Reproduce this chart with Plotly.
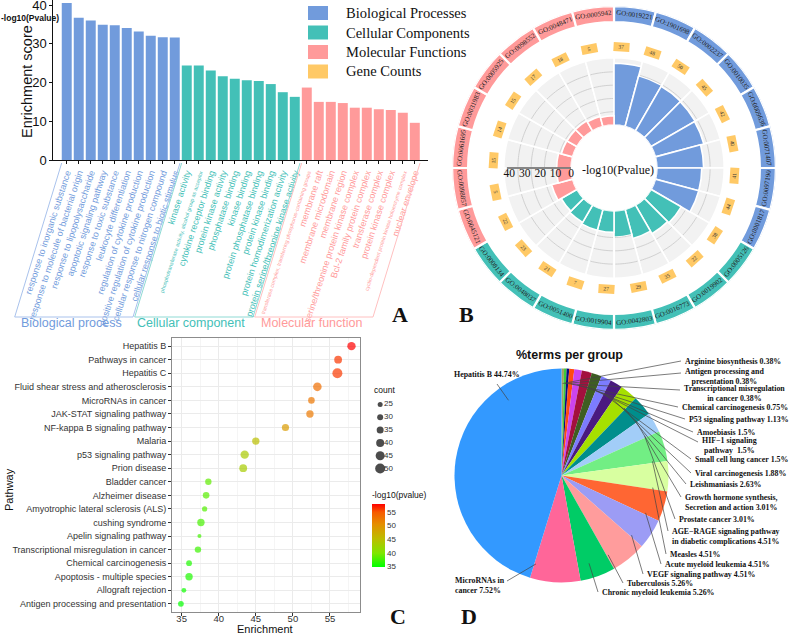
import math
import plotly.graph_objects as go

W, H = 789, 635
SANS = "Liberation Sans, Arial, sans-serif"
SERIF = "Liberation Serif, Times New Roman, serif"

BLUE = "#719BDC"
TEAL = "#43C0B7"
PINK = "#FF9A9A"
GOLD = "#FFC966"

# ---------------- panel A data ----------------
bp_terms = ["response to inorganic substance", "response to molecule of bacterial origin",
            "response to lipopolysaccharide", "apoptotic signaling pathway",
            "response to toxic substance", "leukocyte differentiation",
            "regulation of cytokine production", "positive regulation of cytokine production",
            "cellular response to nitrogen compound", "cellular response to biotic stimulus"]
bp_scores = [40.5, 36.7, 36.0, 34.9, 34.8, 34.1, 33.2, 32.1, 31.7, 31.6]

cc_terms = ["kinase activity", "phosphotransferase activity, alcohol group as acceptor",
            "cytokine receptor binding", "protein kinase activity", "phosphatase binding",
            "kinase binding", "protein phosphatase binding", "protein kinase binding",
            "protein homodimerization activity", "protein serine/threonine kinase activity"]
cc_scores = [24.4, 24.4, 23.1, 21.6, 21.0, 20.6, 20.4, 19.6, 17.5, 16.3]

mf_terms = ["transferase complex, transferring phosphorus-containing groups", "membrane raft",
            "membrane microdomain", "membrane region", "serine/threonine protein kinase complex",
            "Bcl-2 family protein complex", "transferase complex", "protein kinase complex",
            "cyclin-dependent protein kinase holoenzyme complex", "nuclear envelope"]
mf_scores = [18.7, 15.0, 15.0, 14.7, 13.5, 13.5, 13.1, 12.9, 12.2, 9.6]

group_names = ["Biological process", "Cellular component", "Molecular function"]
legend_names = ["Biological Processes", "Cellular Components", "Molecular Functions", "Gene Counts"]

# ---------------- panel B data ----------------
b_go_ids = ["GO:0019221", "GO:1901698", "GO:0002237", "GO:0010035",
            "GO:0009636", "GO:0071407", "GO:0097190", "GO:0001817",
            "GO:0005126", "GO:0019902", "GO:0016773", "GO:0042803",
            "GO:0019904", "GO:0051400", "GO:0048037", "GO:0008134",
            "GO:0045121", "GO:0098857", "GO:0061695", "GO:0031983",
            "GO:0005925", "GO:0098552", "GO:0048471", "GO:0005942"]
b_scores = [40.0, 34.0, 33.2, 32.8, 32.4, 30.2, 29.0, 29.0,
            22.4, 21.3, 19.4, 17.0, 13.9, 14.0, 12.8, 11.7,
            14.0, 9.5, 9.3, 7.5, 7.3, 7.5, 6.8, 6.0]
b_counts = [37, 48, 50, 45, 42, 40, 41, 44,
            38, 22, 35, 29, 27, 7, 21, 23,
            22, 5, 15, 14, 15, 17, 18, 5]
b_groups = ["BP"] * 8 + ["CC"] * 8 + ["MF"] * 8
b_ticks = [0, 10, 20, 30, 40]

# ---------------- panel C data ----------------
pathways = ["Hepatitis B", "Pathways in cancer", "Hepatitis C",
            "Fluid shear stress and atherosclerosis", "MicroRNAs in cancer",
            "JAK-STAT signaling pathway", "NF-kappa B signaling pathway", "Malaria",
            "p53 signaling pathway", "Prion disease", "Bladder cancer", "Alzheimer disease",
            "Amyotrophic lateral sclerosis (ALS)", "cushing syndrome", "Apelin signaling pathway",
            "Transcriptional misregulation in cancer", "Chemical carcinogenesis",
            "Apoptosis - multiple species", "Allograft rejection",
            "Antigen processing and presentation"]
enrichment = [57.9, 56.1, 56.0, 53.3, 52.5, 52.3, 49.0, 45.0, 43.5, 43.3,
              38.6, 38.3, 38.1, 37.6, 37.4, 37.2, 36.0, 36.0, 35.3, 34.9]
path_counts = [42, 39, 50, 43, 33, 37, 36, 37, 42, 39,
               32, 33, 26, 37, 20, 32, 29, 37, 24, 29]
neglog_p = [57.9, 56.1, 56.0, 53.3, 52.5, 52.3, 49.0, 45.0, 43.5, 43.3,
            38.6, 38.3, 38.1, 37.6, 37.4, 37.2, 36.0, 36.0, 35.3, 34.9]
count_legend = [25, 30, 35, 40, 45, 50]

# ---------------- panel D data ----------------
pie_terms = ["Arginine biosynthesis", "Antigen processing and presentation",
             "Transcriptional misregulation in cancer", "Chemical carcinogenesis",
             "P53 signaling pathway", "Amoebiasis", "HIF-1 signaling pathway",
             "Small cell lung cancer", "Viral carcinogenesis", "Leishmaniasis",
             "Growth hormone synthesis, secretion and action", "Prostate cancer",
             "AGE-RAGE signaling pathway in diabetic complications", "Measles",
             "Acute myeloid leukemia", "VEGF signaling pathway", "Tuberculosis",
             "Chronic myeloid leukemia", "MicroRNAs in cancer", "Hepatitis B"]
pie_pct = [0.38, 0.38, 0.38, 0.75, 1.13, 1.5, 1.5, 1.5, 1.88, 2.63,
           3.01, 3.01, 4.51, 4.51, 4.51, 4.51, 5.26, 5.26, 7.52, 44.74]
pie_colors = ["#A3A35E", "#3CCB3C", "#0A0A80", "#FF4A10", "#CC44EE", "#A3103E",
              "#3E5E22", "#7C7CFF", "#4A1A80", "#A6E000", "#008E8C", "#A2CDF8",
              "#72EE84", "#D8FFA0", "#FF6633", "#9C9CF5", "#FF9C9C", "#00CC66",
              "#FF6699", "#3399FF"]
pie_label_text = ["Arginine biosynthesis 0.38%",
                  "Antigen processing and<br>presentation 0.38%",
                  "Transcriptional misregulation<br>in cancer 0.38%",
                  "Chemical carcinogenesis 0.75%",
                  "P53 signaling pathway 1.13%",
                  "Amoebiasis 1.5%",
                  "HIF−1 signaling<br>pathway  1.5%",
                  "Small cell lung cancer 1.5%",
                  "Viral carcinogenesis 1.88%",
                  "Leishmaniasis 2.63%",
                  "Growth hormone synthesis,<br>Secretion and action 3.01%",
                  "Prostate cancer 3.01%",
                  "AGE−RAGE signaling pathway<br>in diabetic complications 4.51%",
                  "Measles 4.51%",
                  "Acute myeloid leukemia 4.51%",
                  "VEGF signaling pathway 4.51%",
                  "Tuberculosis 5.26%",
                  "Chronic myeloid leukemia 5.26%",
                  "MicroRNAs in<br>cancer 7.52%",
                  "Hepatitis B 44.74%"]
# label placement (pixels): left x, centre y, alignment
pie_label_pos = [(683, 361, "left"), (683, 376, "center"), (682, 393, "center"),
                 (680, 407.5, "left"), (687, 419.5, "left"), (695, 432, "left"),
                 (700, 445, "center"), (693, 459, "left"), (693, 473, "left"),
                 (688, 484, "left"), (683, 502, "left"), (677, 519, "left"),
                 (670, 536, "left"), (668, 554, "left"), (663, 564, "left"),
                 (645, 574, "left"), (625, 583, "left"), (600, 592, "left"),
                 (453, 585, "left"), (452, 375, "left")]
pie_line_start = [(681, 361), (681, 373), (680, 390), (678, 407), (685, 419), (693, 432),
                  (698, 442), (691, 459), (691, 473), (686, 484), (681, 497), (675, 519),
                  (668, 531), (666, 554), (661, 564), (643, 574), (623, 583), (598, 592),
                  (507, 581), (497, 384)]


def px(x):
    return x / W


def py(y):
    return 1 - y / H


def ann(x, y, text, size, family=SANS, color="#111", xanchor="center", **kw):
    d = dict(x=px(x), y=py(y), xref="paper", yref="paper", text=text, showarrow=False,
             xanchor=xanchor, yanchor="middle", font=dict(family=family, size=size, color=color))
    d.update(kw)
    return d


fig = go.Figure()

# ================= panel A =================
a_terms = bp_terms + cc_terms + mf_terms
a_colors = [BLUE] * 10 + [TEAL] * 10 + [PINK] * 10
small_terms = {"phosphotransferase activity, alcohol group as acceptor",
               "transferase complex, transferring phosphorus-containing groups",
               "cyclin-dependent protein kinase holoenzyme complex"}
ticktext = []
for t, c in zip(a_terms, a_colors):
    fs = 5.3 if t in small_terms else 9
    ticktext.append(f'<span style="color:{c};font-size:{fs}px">{t}</span>')

for k, (scores, col) in enumerate([(bp_scores, BLUE), (cc_scores, TEAL), (mf_scores, PINK)]):
    fig.add_trace(go.Bar(x=list(range(10 * k, 10 * k + 10)), y=scores, width=0.83,
                         marker=dict(color=col, line_width=0), xaxis="x", yaxis="y",
                         hoverinfo="skip"))

shapes = []
annotations = []

# brackets under the groups
bracket_cols = ["#A9C2EC", "#8FDAD4", "#FFC0C0"]
for g in range(3):
    x_tl = 61.7 + 120 * g
    x_tr = 180.0 + 120 * g
    path = (f"M {px(x_tl)},{py(163)} L {px(x_tl - 47)},{py(317)} "
            f"L {px(x_tr - 47)},{py(317)} L {px(x_tr)},{py(163)}")
    shapes.append(dict(type="path", xref="paper", yref="paper", path=path,
                       line=dict(color=bracket_cols[g], width=1)))
    annotations.append(ann(71 + 120 * g, 323, group_names[g], 12.5, color=[BLUE, TEAL, PINK][g]))

# panel A legend
for i, (name, col) in enumerate(zip(legend_names, [BLUE, TEAL, PINK, GOLD])):
    y0 = 6 + 19.5 * i
    shapes.append(dict(type="rect", xref="paper", yref="paper", x0=px(308), x1=px(328),
                       y0=py(y0 + 14), y1=py(y0), fillcolor=col, line_width=0))
    annotations.append(ann(344, y0 + 7, name, 14.5, family=SERIF, xanchor="left"))

annotations.append(ann(30, 18, "<b>-log10(Pvalue)</b>", 8.5))
annotations.append(ann(27, 82, "Enrichment score", 14.5, textangle=-90))

# ================= panel B =================
CX, CY, R_OUT, HOLE, R_MAX = 614, 168, 162, 0.265, 77.0


def polar_px(v, th):
    r = R_OUT * HOLE + v / R_MAX * R_OUT * (1 - HOLE)
    a = math.radians(th)
    return CX + r * math.sin(a), CY - r * math.cos(a)


def tangent_angle(th):
    th = th % 360
    if th <= 90:
        return th
    if th >= 270:
        return th - 360
    return th - 180


n_b = len(b_scores)
step = 360 / n_b
theta_c = [step * (i + 0.5) for i in range(n_b)]
group_col = {"BP": BLUE, "CC": TEAL, "MF": PINK}
b_cols = [group_col[g] for g in b_groups]

fig.add_trace(go.Barpolar(r=[43.5] * n_b, theta=theta_c, width=[step] * n_b,
                          marker=dict(color="#F2F2F2", line=dict(color="white", width=1.6)),
                          hoverinfo="skip", subplot="polar"))

# grid arcs on the grey background only
arc_r, arc_t = [], []
for i, s in enumerate(b_scores):
    for lev in [8.6, 17.2, 25.8, 34.4]:
        if lev <= s:
            continue
        for j in range(11):
            arc_t.append(step * i + 0.8 + j * (step - 1.6) / 10)
            arc_r.append(lev)
        arc_t.append(None)
        arc_r.append(None)
fig.add_trace(go.Scatterpolar(r=arc_r, theta=arc_t, mode="lines",
                              line=dict(color="#C8C8C8", width=0.8),
                              hoverinfo="skip", subplot="polar"))

fig.add_trace(go.Barpolar(r=b_scores, theta=theta_c, width=[step] * n_b,
                          marker=dict(color=b_cols, line=dict(color="white", width=1.6)),
                          hoverinfo="skip", subplot="polar"))
# outer GO ring
fig.add_trace(go.Barpolar(r=[10.3] * n_b, base=[66.6] * n_b, theta=theta_c, width=[step] * n_b,
                          marker=dict(color=b_cols, line=dict(color="white", width=2.2)),
                          hoverinfo="skip", subplot="polar"))
# radial scale bar
fig.add_trace(go.Scatterpolar(r=[0, 41.5], theta=[270, 270], mode="lines",
                              line=dict(color="#111", width=1), hoverinfo="skip", subplot="polar"))
fig.add_trace(go.Scatterpolar(r=b_ticks, theta=[270] * len(b_ticks), mode="text",
                              text=[str(t) for t in b_ticks], textposition="bottom center",
                              textfont=dict(family=SERIF, size=11.5, color="#111"),
                              hoverinfo="skip", subplot="polar"))

for i in range(n_b):
    th = theta_c[i]
    gx, gy = polar_px(71.8, th)
    annotations.append(ann(gx, gy, b_go_ids[i], 7, family=SERIF, color="#222",
                           textangle=tangent_angle(th)))
    tc = step * i + 3.5
    cx_, cy_ = polar_px(50.5, tc)
    annotations.append(ann(cx_, cy_, str(b_counts[i]), 5.5, family=SERIF, color="#333",
                           textangle=tangent_angle(tc), bgcolor=GOLD, width=13, height=6,
                           borderpad=0.8))

annotations.append(ann(580, 170, "-log10(Pvalue)", 12, family=SERIF, xanchor="left"))

# ================= panel C =================
fig.add_trace(go.Scatter(
    x=enrichment, y=pathways, mode="markers", xaxis="x2", yaxis="y2", hoverinfo="skip",
    marker=dict(size=path_counts, sizemode="diameter", sizeref=5, color=neglog_p,
                cmin=34.8, cmax=57.9, line_width=0,
                colorscale=[[0, "#00FF00"], [0.22, "#80E600"], [0.45, "#BDBD00"],
                            [0.68, "#E58E00"], [0.87, "#F75A00"], [1, "#FF0000"]],
                colorbar=dict(x=px(372), xanchor="left", xpad=0, y=py(489), yanchor="top",
                              ypad=0, len=78, lenmode="pixels", thickness=13, outlinewidth=0,
                              tickvals=[35, 40, 45, 50, 55], ticks="",
                              tickfont=dict(family=SANS, size=8, color="#333"),
                              title=dict(text="-log10(pvalue)", side="top",
                                         font=dict(family=SANS, size=8.5, color="#111"))))))

fig.add_trace(go.Scatter(x=[0.38] * len(count_legend), y=[str(c) for c in count_legend],
                         mode="markers", xaxis="x3", yaxis="y3", hoverinfo="skip",
                         marker=dict(size=count_legend, sizemode="diameter", sizeref=5,
                                     color="black", line_width=0)))
fig.add_trace(go.Scatter(x=[0.5] * len(count_legend), y=[str(c) for c in count_legend],
                         mode="text", text=[str(c) for c in count_legend], textposition="middle right",
                         textfont=dict(family=SANS, size=8, color="#333"),
                         xaxis="x3", yaxis="y3", hoverinfo="skip"))
annotations.append(ann(372, 390, "count", 8.5, xanchor="left"))
annotations.append(ann(9, 490, "Pathway", 11, textangle=-90))
annotations.append(ann(265, 629, "Enrichment", 11))

# ================= panel D =================
PCX, PCY, PR = 561.5, 475.5, 107
fig.add_trace(go.Pie(labels=pie_terms, values=pie_pct, sort=False, direction="clockwise",
                     rotation=0, textinfo="none", hoverinfo="skip", showlegend=False,
                     marker=dict(colors=pie_colors, line=dict(width=0)),
                     domain=dict(x=[px(PCX - PR), px(PCX + PR)], y=[py(PCY + PR), py(PCY - PR)])))

total = sum(pie_pct)
cum = 0.0
for i, v in enumerate(pie_pct):
    a0 = 360 * cum / total
    a1 = 360 * (cum + v) / total
    cum += v
    sx, sy = pie_line_start[i]
    ang = math.degrees(math.atan2(sx - PCX, -(sy - PCY))) % 360
    lo, hi = a0 + min(1.0, (a1 - a0) / 2), a1 - min(1.0, (a1 - a0) / 2)
    ang = min(max(ang, lo), hi)
    ex = PCX + 0.86 * PR * math.sin(math.radians(ang))
    ey = PCY - 0.86 * PR * math.cos(math.radians(ang))
    shapes.append(dict(type="line", xref="paper", yref="paper", x0=px(sx), y0=py(sy),
                       x1=px(ex), y1=py(ey), line=dict(color="#444", width=0.7)))
    lx, ly, al = pie_label_pos[i]
    annotations.append(ann(lx, ly, f"<b>{pie_label_text[i]}</b>", 7.9, family=SERIF,
                           xanchor="left", align=al))

annotations.append(ann(569, 355, "<b>%terms per group</b>", 12.5))

# panel letters
for letter, lx, ly in [("A", 400, 314), ("B", 466, 314), ("C", 398, 616), ("D", 469, 616)]:
    annotations.append(ann(lx, ly, f"<b>{letter}</b>", 22, family=SERIF))

fig.update_layout(
    width=W, height=H, margin=dict(l=0, r=0, t=0, b=0, autoexpand=False),
    paper_bgcolor="white", plot_bgcolor="white", showlegend=False,
    xaxis=dict(domain=[px(53.3), px(428)], anchor="y", range=[-1.12, 30.1], automargin=False,
               tickvals=list(range(30)), ticktext=ticktext, tickangle=-72,
               tickfont=dict(family=SANS, size=9), ticks="outside", ticklen=3,
               tickcolor="#111", showline=True, linecolor="#111", linewidth=1,
               showgrid=False, zeroline=False),
    yaxis=dict(domain=[py(160), 1.0], anchor="x", range=[0, 41.3], automargin=False,
               tickvals=[0, 10, 20, 30, 40], ticks="outside", ticklen=3, tickcolor="#111",
               ticklabeloverflow="allow",
               tickfont=dict(family=SANS, size=13, color="#111"), showline=True,
               linecolor="#111", linewidth=1, showgrid=False, zeroline=False),
    xaxis2=dict(domain=[px(172), px(360)], anchor="y2", range=[33.7, 59.05], automargin=False,
                tickvals=[35, 40, 45, 50, 55], ticks="outside", ticklen=3, tickcolor="#333",
                ticklabelstandoff=-5,
                tickfont=dict(family=SANS, size=9.5, color="#333"), showgrid=True,
                gridcolor="#EBEBEB", gridwidth=1,
                minor=dict(dtick=2.5, showgrid=True, gridcolor="#F5F5F5", gridwidth=0.6),
                showline=True, mirror=True, linecolor="#8C8C8C", zeroline=False),
    yaxis2=dict(domain=[py(612), py(338)], anchor="x2", type="category", automargin=False,
                categoryorder="array", categoryarray=pathways, range=[19.6, -0.6],
                ticks="outside", ticklen=3, tickcolor="#333",
                tickfont=dict(family=SANS, size=9, color="#333"), showgrid=True,
                gridcolor="#EBEBEB", showline=True, mirror=True, linecolor="#8C8C8C"),
    xaxis3=dict(domain=[px(368), px(400)], anchor="y3", range=[0, 1], visible=False,
                automargin=False),
    yaxis3=dict(domain=[py(475), py(398)], anchor="x3", type="category", automargin=False,
                categoryorder="array", categoryarray=[str(c) for c in count_legend],
                range=[5.5, -0.5], visible=False),
    polar=dict(domain=dict(x=[px(CX - R_OUT), px(CX + R_OUT)], y=[py(CY + R_OUT), py(CY - R_OUT)]),
               hole=HOLE, bgcolor="rgba(0,0,0,0)", barmode="overlay",
               radialaxis=dict(range=[0, R_MAX], visible=False),
               angularaxis=dict(rotation=90, direction="clockwise", visible=False)),
    shapes=shapes, annotations=annotations,
)

fig.write_html("out.html", config={"displayModeBar": False},
               post_script="document.body.style.margin='0px';document.body.style.overflow='hidden';")
